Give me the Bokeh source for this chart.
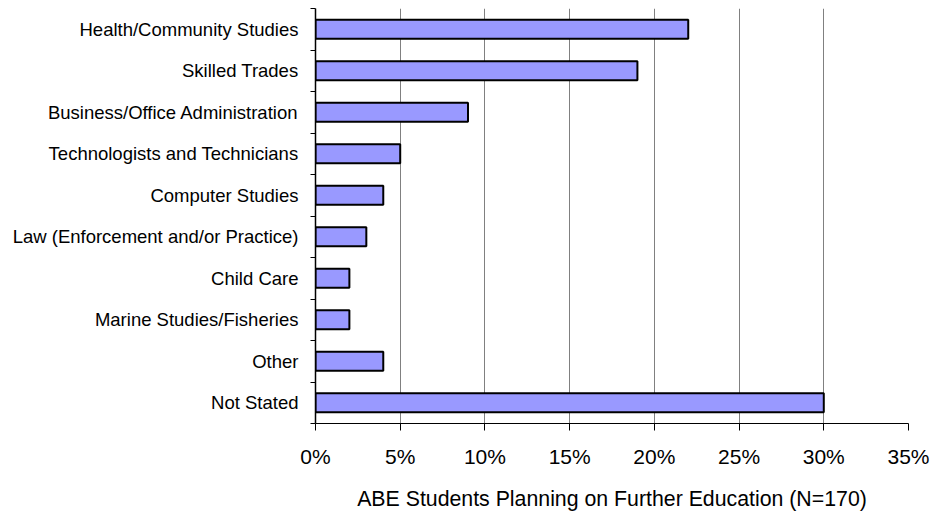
from bokeh.plotting import figure
from bokeh.models import Range1d, FixedTicker, NumeralTickFormatter
from bokeh.embed import file_html
from bokeh.resources import INLINE

categories = ["Health/Community Studies", "Skilled Trades", "Business/Office Administration",
              "Technologists and Technicians", "Computer Studies", "Law (Enforcement and/or Practice)",
              "Child Care", "Marine Studies/Fisheries", "Other", "Not Stated"]
values = [0.22, 0.19, 0.09, 0.05, 0.04, 0.03, 0.02, 0.02, 0.04, 0.30]
x_ticks = [0, 0.05, 0.10, 0.15, 0.20, 0.25, 0.30, 0.35]
x_title = "ABE Students Planning on Further Education (N=170)"

n = len(categories)
centers = [n - i - 0.5 for i in range(n)]
boundaries = list(range(n + 1))

FONT = "Liberation Sans"

p = figure(width=930, height=515, x_range=Range1d(0, 0.35), y_range=Range1d(0, n),
           output_backend="svg", toolbar_location=None,
           min_border_left=315, min_border_right=22, min_border_top=8, min_border_bottom=92)
p.outline_line_color = None
p.background_fill_color = "white"

p.hbar(y=centers, right=values, left=0, height=0.46,
       fill_color="#9999FF", line_color="black", line_width=2)

# x axis
p.xaxis.ticker = FixedTicker(ticks=x_ticks)
p.xaxis.formatter = NumeralTickFormatter(format="0%")
p.xaxis.major_tick_out = 7
p.xaxis.major_tick_in = 0
p.xaxis.minor_tick_out = 0
p.xaxis.minor_tick_in = 0
p.xaxis.axis_line_color = "black"
p.xaxis.major_tick_line_color = "black"
p.xaxis.major_label_text_font = FONT
p.xaxis.major_label_text_font_size = "21px"
p.xaxis.major_label_text_color = "black"
p.xaxis.major_label_standoff = 14
p.xaxis.axis_label = x_title
p.xaxis.axis_label_text_font = FONT
p.xaxis.axis_label_text_font_size = "21.3px"
p.xaxis.axis_label_text_font_style = "normal"
p.xaxis.axis_label_text_color = "black"
p.xaxis.axis_label_standoff = 16

# y axis
p.yaxis.ticker = FixedTicker(ticks=centers, minor_ticks=boundaries)
p.yaxis.major_label_overrides = {c: lab for c, lab in zip(centers, categories)}
p.yaxis.major_tick_out = 0
p.yaxis.major_tick_in = 0
p.yaxis.minor_tick_out = 5
p.yaxis.minor_tick_in = 0
p.yaxis.minor_tick_line_color = "black"
p.yaxis.axis_line_color = "black"
p.yaxis.axis_line_width = 1.5
p.yaxis.major_label_text_font = FONT
p.yaxis.major_label_text_font_size = "18.5px"
p.yaxis.major_label_text_color = "black"
p.yaxis.major_label_standoff = 12

# grid
p.xgrid.grid_line_color = "#808080"
p.xgrid.grid_line_width = 1
p.ygrid.grid_line_color = None

open("out.html", "w").write(file_html(p, INLINE))
